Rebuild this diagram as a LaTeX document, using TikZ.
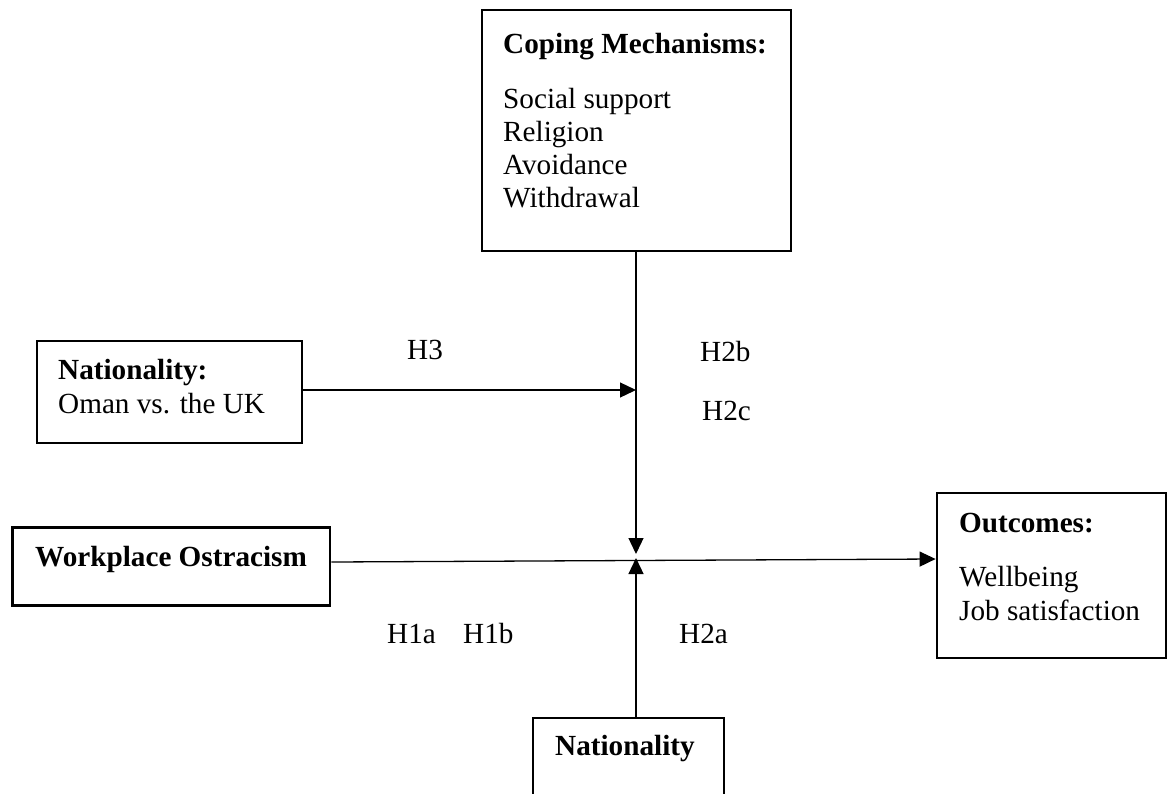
\documentclass[tikz,border=0pt]{standalone}
\usepackage{fontspec}
\setmainfont{Liberation Serif}
\usetikzlibrary{arrows.meta}
\begin{document}
\begin{tikzpicture}[x=1pt,y=-1pt,
  box/.style={draw=black, line width=2.8pt, rectangle, inner sep=0pt},
  txt/.style={inner sep=0pt, anchor=base west, font=\fontsize{29.2}{33}\selectfont},
  btxt/.style={inner sep=0pt, anchor=base west, font=\fontsize{29.2}{33}\selectfont\bfseries},
  link/.style={line width=1.3pt, -{Triangle[length=16pt,width=15pt]}}]

\useasboundingbox (0,0) rectangle (1168,793);
\clip (0,0) rectangle (1168,793);

% boxes
\node[box, minimum width=309pt, minimum height=241pt] (cope) at (636.5,130.5) {};
\node[box, minimum width=265pt, minimum height=102pt] (oman) at (169.5,392) {};
\node[box, minimum width=317.5pt, minimum height=78pt] (wo) at (171.25,566.5) {};
\node[box, minimum width=229pt, minimum height=165pt] (out) at (1051.5,575.5) {};
\node[box, minimum width=191pt, minimum height=110pt] (natb) at (628.5,773) {};

% box texts
\node[btxt] (copeT) at (503,53) {Coping Mechanisms:};
\node[txt] (copeA) at (503,108) {Social support};
\node[txt] (copeB) at (503,141) {Religion};
\node[txt] (copeC) at (503,174) {Avoidance};
\node[txt] (copeD) at (503,207) {Withdrawal};

\node[btxt] (omanT) at (58,379) {Nationality:};
\node[txt] (omanA) at (58,413) {Oman vs. the UK};

\node[btxt] (woT) at (35,566) {Workplace Ostracism};

\node[btxt] (outT) at (959,532) {Outcomes:};
\node[txt] (outA) at (959,586) {Wellbeing};
\node[txt] (outB) at (959,620) {Job satisfaction};

\node[btxt] (natT) at (555,755) {Nationality};

% hypothesis labels
\node[txt] (h3) at (407,359) {H3};
\node[txt] (h2b) at (700,361) {H2b};
\node[txt] (h2c) at (702,420) {H2c};
\node[txt] (h1a) at (387,643) {H1a};
\node[txt] (h1b) at (463,643) {H1b};
\node[txt] (h2a) at (679,643) {H2a};

% connector end points on the moderating line
\coordinate (h3tip) at (636,390);
\coordinate (jdown) at (636,554);
\coordinate (jup) at (636,558);

% connectors
\draw[link] (cope.south -| jdown) -- (jdown);
\draw[link] ([yshift=2pt]oman.east) -- (h3tip);
\draw[link] (natb.north -| jup) -- (jup);
\draw[link] ([yshift=4.5pt]wo.east) -- ([yshift=16.5pt]out.west);

\end{tikzpicture}
\end{document}
